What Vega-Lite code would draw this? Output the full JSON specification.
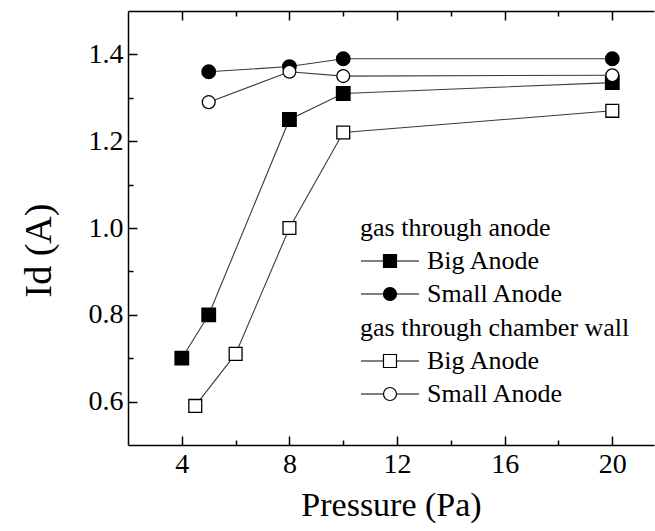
{
  "$schema": "https://vega.github.io/schema/vega-lite/v6.json",
  "width": 526,
  "height": 434,
  "autosize": "none",
  "padding": {"left": 128, "top": 11, "right": 1, "bottom": 86},
  "background": "white",
  "config": {
    "view": {"stroke": null},
    "font": "Liberation Serif",
    "axis": {
      "domainColor": "black", "domainWidth": 1.5,
      "tickColor": "black", "tickWidth": 1.5,
      "labelColor": "black", "titleColor": "black",
      "labelFont": "Liberation Serif", "titleFont": "Liberation Serif",
      "labelFontSize": 28, "titleFontSize": 34, "titleFontWeight": "normal",
      "labelOverlap": false, "grid": false
    },
    "legend": {
      "titleFont": "Liberation Serif", "labelFont": "Liberation Serif",
      "titleFontSize": 26, "labelFontSize": 26,
      "titleFontWeight": "normal", "titleColor": "black", "labelColor": "black",
      "titleLimit": 500, "labelLimit": 500,
      "padding": 0
    }
  },
  "data": {
    "values": [
      {"p": 4, "i": 0.70, "gas": "anode", "anode": "Big Anode"},
      {"p": 5, "i": 0.80, "gas": "anode", "anode": "Big Anode"},
      {"p": 8, "i": 1.25, "gas": "anode", "anode": "Big Anode"},
      {"p": 10, "i": 1.31, "gas": "anode", "anode": "Big Anode"},
      {"p": 20, "i": 1.335, "gas": "anode", "anode": "Big Anode"},
      {"p": 5, "i": 1.36, "gas": "anode", "anode": "Small Anode"},
      {"p": 8, "i": 1.372, "gas": "anode", "anode": "Small Anode"},
      {"p": 10, "i": 1.39, "gas": "anode", "anode": "Small Anode"},
      {"p": 20, "i": 1.39, "gas": "anode", "anode": "Small Anode"},
      {"p": 4.5, "i": 0.59, "gas": "wall", "anode": "Big Anode"},
      {"p": 6, "i": 0.71, "gas": "wall", "anode": "Big Anode"},
      {"p": 8, "i": 1.00, "gas": "wall", "anode": "Big Anode"},
      {"p": 10, "i": 1.22, "gas": "wall", "anode": "Big Anode"},
      {"p": 20, "i": 1.27, "gas": "wall", "anode": "Big Anode"},
      {"p": 5, "i": 1.29, "gas": "wall", "anode": "Small Anode"},
      {"p": 8, "i": 1.36, "gas": "wall", "anode": "Small Anode"},
      {"p": 10, "i": 1.35, "gas": "wall", "anode": "Small Anode"},
      {"p": 20, "i": 1.352, "gas": "wall", "anode": "Small Anode"}
    ]
  },
  "layer": [
    {
      "encoding": {
        "x": {
          "field": "p", "type": "quantitative",
          "scale": {"domain": [2, 21.55], "nice": false, "zero": false},
          "axis": {
            "orient": "bottom",
            "title": "Pressure (Pa)",
            "values": [4, 6, 8, 10, 12, 14, 16, 18, 20],
            "labelExpr": "datum.value % 4 == 0 ? datum.label : ''",
            "tickSize": {"expr": "datum.value % 4 == 0 ? -9 : -5"},
            "labelPadding": 14, "titlePadding": 6
          }
        },
        "y": {
          "field": "i", "type": "quantitative",
          "scale": {"domain": [0.5, 1.5], "nice": false, "zero": false},
          "axis": {
            "title": "Id (A)",
            "titleFontSize": 38,
            "titleY": 239,
            "values": [0.6, 0.7, 0.8, 0.9, 1.0, 1.1, 1.2, 1.3, 1.4],
            "format": ".1f",
            "labelExpr": "round(datum.value * 10) % 2 == 0 ? datum.label : ''",
            "tickSize": {"expr": "round(datum.value * 10) % 2 == 0 ? -9 : -5"},
            "labelPadding": 14, "titlePadding": 30
          }
        }
      },
      "layer": [
        {
          "transform": [{"filter": "datum.gas == 'anode'"}],
          "layer": [
            {
              "mark": {"type": "line", "color": "#3a3a3a", "strokeWidth": 1.1},
              "encoding": {"detail": {"field": "anode"}, "order": {"field": "p"}}
            },
            {
              "mark": {"type": "point", "filled": true, "fill": "black", "stroke": "black", "size": 165, "opacity": 1},
              "encoding": {
                "shape": {
                  "field": "anode", "type": "nominal",
                  "scale": {"domain": ["Big Anode", "Small Anode"], "range": ["square", "circle"]},
                  "legend": null
                }
              }
            },
            {
              "mark": {"type": "point", "filled": false, "fill": "black", "stroke": "black", "strokeWidth": 1.2, "size": 0, "opacity": 1},
              "encoding": {
                "shape": {
                  "field": "anode", "type": "nominal",
                  "scale": {"domain": ["Big Anode", "Small Anode"], "range": ["M-1,0H0.73M1.73,0H3.46M0.73,-0.5H1.73V0.5H0.73Z", "M-1,0H0.73M1.73,0H3.46M0.73,0A0.5,0.5,0,1,0,1.73,0A0.5,0.5,0,1,0,0.73,0Z"]},
                  "legend": {
                    "title": "gas through anode",
                    "orient": "none", "legendX": 232, "legendY": 204,
                    "symbolSize": 676, "symbolStrokeWidth": 1.2,
                    "labelOffset": 39, "rowPadding": 6, "titlePadding": 6
                  }
                }
              }
            }
          ],
          "resolve": {"scale": {"shape": "independent"}}
        },
        {
          "transform": [{"filter": "datum.gas == 'wall'"}],
          "layer": [
            {
              "mark": {"type": "line", "color": "#3a3a3a", "strokeWidth": 1.1},
              "encoding": {"detail": {"field": "anode"}, "order": {"field": "p"}}
            },
            {
              "mark": {"type": "point", "filled": false, "fill": "white", "stroke": "black", "strokeWidth": 1.3, "size": 165, "opacity": 1, "fillOpacity": 1},
              "encoding": {
                "shape": {
                  "field": "anode", "type": "nominal",
                  "scale": {"domain": ["Big Anode", "Small Anode"], "range": ["square", "circle"]},
                  "legend": null
                }
              }
            },
            {
              "mark": {"type": "point", "filled": false, "fill": "white", "stroke": "black", "strokeWidth": 1.2, "size": 0, "opacity": 1, "fillOpacity": 1},
              "encoding": {
                "shape": {
                  "field": "anode", "type": "nominal",
                  "scale": {"domain": ["Big Anode", "Small Anode"], "range": ["M-1,0H0.73M1.73,0H3.46M0.73,-0.5H1.73V0.5H0.73Z", "M-1,0H0.73M1.73,0H3.46M0.73,0A0.5,0.5,0,1,0,1.73,0A0.5,0.5,0,1,0,0.73,0Z"]},
                  "legend": {
                    "title": "gas through chamber wall",
                    "orient": "none", "legendX": 232, "legendY": 304,
                    "symbolSize": 676, "symbolStrokeWidth": 1.2,
                    "labelOffset": 39, "rowPadding": 6, "titlePadding": 6
                  }
                }
              }
            }
          ],
          "resolve": {"scale": {"shape": "independent"}}
        }
      ],
      "resolve": {"scale": {"shape": "independent"}, "legend": {"shape": "independent"}}
    },
    {
      "mark": {"type": "point", "opacity": 0},
      "encoding": {
        "x": {
          "field": "p", "type": "quantitative",
          "scale": {"domain": [2, 21.55], "nice": false, "zero": false},
          "axis": {
            "orient": "top", "labels": false, "title": null,
            "values": [4, 6, 8, 10, 12, 14, 16, 18, 20],
            "tickSize": {"expr": "datum.value % 4 == 0 ? -9 : -5"}
          }
        }
      }
    }
  ],
  "resolve": {"scale": {"x": "independent"}, "axis": {"x": "independent"}}
}
